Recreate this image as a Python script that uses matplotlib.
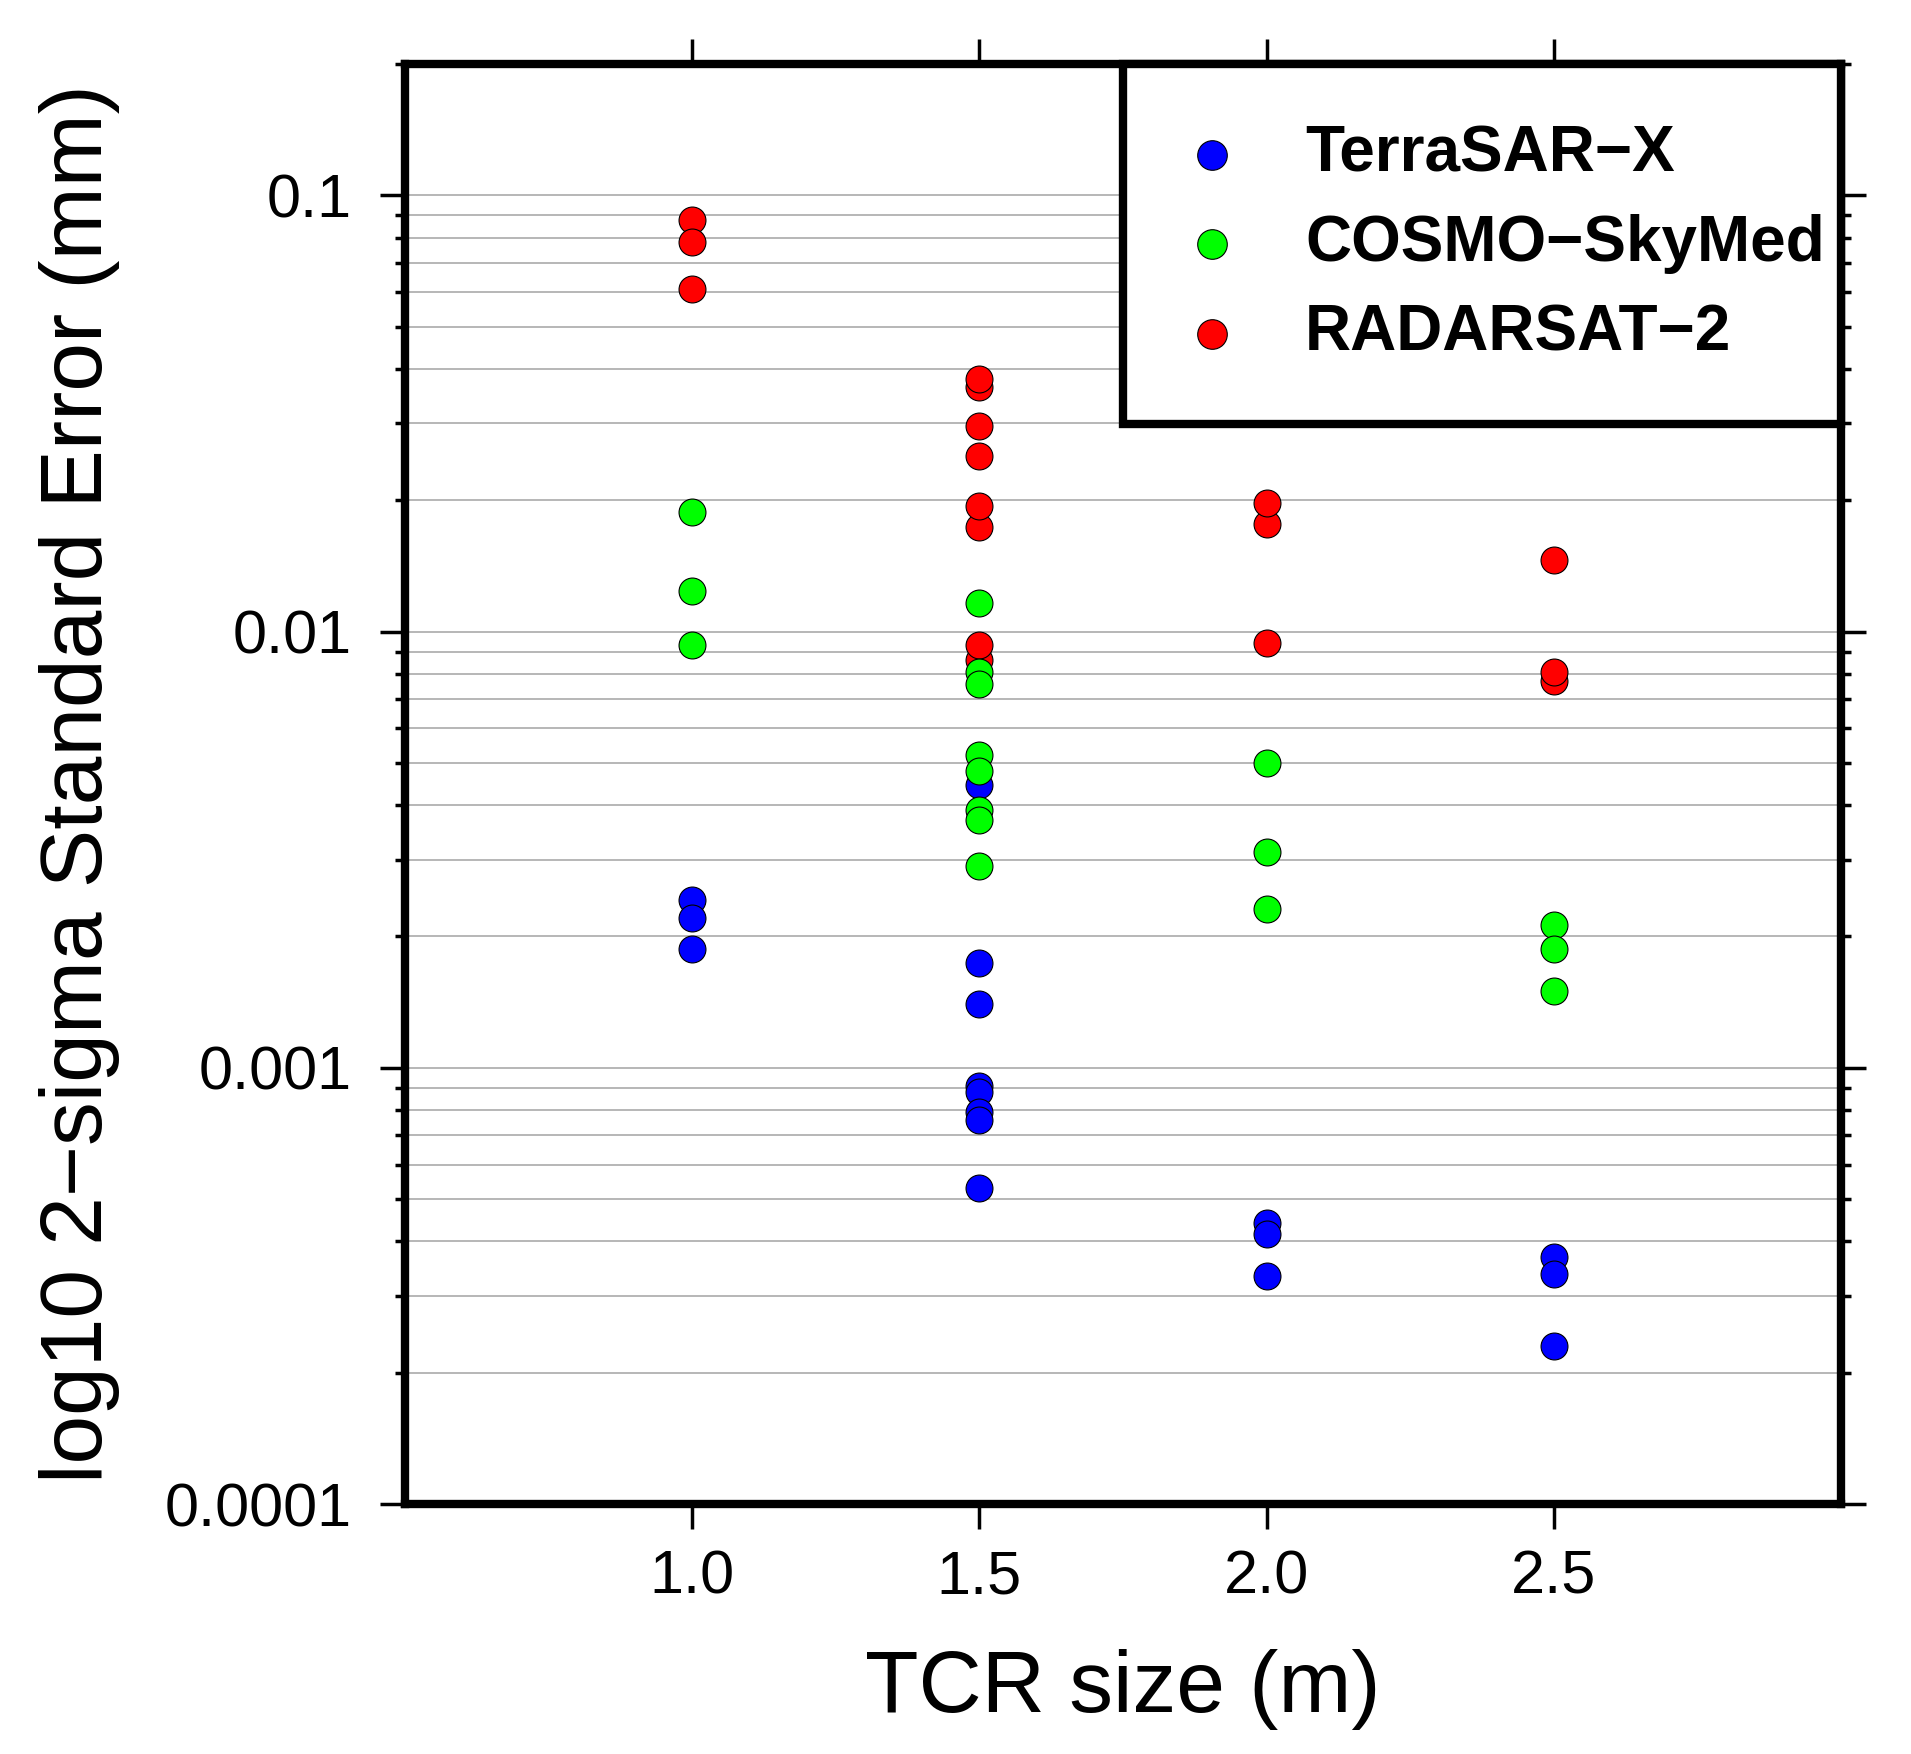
import matplotlib
matplotlib.use("Agg")
import matplotlib.pyplot as plt
from matplotlib.ticker import FixedLocator, FixedFormatter, LogLocator, NullLocator, NullFormatter

plt.rcParams['font.family'] = ['Liberation Sans', 'DejaVu Sans']

# TCR size (m) and 2-sigma standard error (mm) per satellite
terrasar_size = [1.0, 1.0, 1.0,
                 1.5, 1.5, 1.5, 1.5, 1.5, 1.5, 1.5, 1.5,
                 2.0, 2.0, 2.0,
                 2.5, 2.5, 2.5]
terrasar_err = [0.00242, 0.00221, 0.00187,
                0.00445, 0.00174, 0.00140, 0.00091, 0.00088, 0.00079, 0.00076, 0.00053,
                0.00044, 0.000415, 0.000334,
                0.000369, 0.000337, 0.000230]

cosmo_size = [1.0, 1.0, 1.0,
              1.5, 1.5, 1.5, 1.5, 1.5, 1.5, 1.5, 1.5,
              2.0, 2.0, 2.0,
              2.5, 2.5, 2.5]
cosmo_err = [0.0188, 0.0124, 0.0093,
             0.0116, 0.0081, 0.0076, 0.0052, 0.0048, 0.0039, 0.0037, 0.0029,
             0.0050, 0.00313, 0.00231,
             0.00212, 0.00187, 0.00150]

radarsat_size = [1.0, 1.0, 1.0,
                 1.5, 1.5, 1.5, 1.5, 1.5, 1.5, 1.5, 1.5,
                 2.0, 2.0, 2.0,
                 2.5, 2.5, 2.5]
radarsat_err = [0.088, 0.078, 0.061,
                0.0363, 0.038, 0.0296, 0.0253, 0.0174, 0.0194, 0.0086, 0.0093,
                0.0176, 0.0197, 0.0094,
                0.0146, 0.0077, 0.0081]

x_ticks = [1.0, 1.5, 2.0, 2.5]
x_tick_labels = ["1.0", "1.5", "2.0", "2.5"]
y_ticks = [0.0001, 0.001, 0.01, 0.1]
y_tick_labels = ["0.0001", "0.001", "0.01", "0.1"]

fig = plt.figure(figsize=(19.11, 17.54), dpi=100)
ax = fig.add_axes([0.2117, 0.1425, 0.7518, 0.821])

dot = dict(s=375, edgecolors='black', linewidths=0.8, zorder=3)
h_red = ax.scatter(radarsat_size, radarsat_err, c='#ff0000', label='RADARSAT\u22122', **dot)
h_blue = ax.scatter(terrasar_size, terrasar_err, c='#0000ff', label='TerraSAR\u2212X', **dot)
h_green = ax.scatter(cosmo_size, cosmo_err, c='#00ff00', label='COSMO\u2212SkyMed', **dot)

ax.set_yscale('log')
ax.set_xlim(0.5, 3.0)
ax.set_ylim(0.0001, 0.2)

ax.xaxis.set_major_locator(FixedLocator(x_ticks))
ax.xaxis.set_major_formatter(FixedFormatter(x_tick_labels))
ax.xaxis.set_minor_locator(NullLocator())
ax.yaxis.set_major_locator(FixedLocator(y_ticks))
ax.yaxis.set_major_formatter(FixedFormatter(y_tick_labels))
ax.yaxis.set_minor_locator(LogLocator(base=10, subs=range(2, 10)))
ax.yaxis.set_minor_formatter(NullFormatter())

ax.tick_params(which='both', direction='out', top=True, right=True, width=2.5)
ax.tick_params(which='major', length=18, labelsize=44)
ax.tick_params(which='minor', length=7)
ax.tick_params(axis='y', which='major', pad=20)
ax.tick_params(axis='x', which='major', pad=15)

for sp in ax.spines.values():
    sp.set_linewidth(6)

ax.set_axisbelow(True)
ax.grid(True, which='both', axis='y', color='#aaaaaa', linewidth=1.2)

ax.set_xlabel("TCR size (m)", fontsize=63)
ax.set_ylabel("log10 2\u2212sigma Standard Error (mm)", fontsize=63)
ax.xaxis.set_label_coords(0.5, -0.101)
ax.yaxis.set_label_coords(-0.198, 0.5)

leg = ax.legend(handles=[h_blue, h_green, h_red], loc='upper left',
                bbox_to_anchor=(0.5, 0.0, 0.5, 1.0), mode='expand',
                borderaxespad=0, borderpad=0.95, labelspacing=0.46,
                handlelength=0.88, handletextpad=1.02, markerscale=1.1,
                fancybox=False, framealpha=1, edgecolor='black',
                prop={'weight': 'bold', 'size': 46})
leg.get_frame().set_linewidth(6)
leg.set_zorder(5)

fig.savefig("out.png", dpi=100)
